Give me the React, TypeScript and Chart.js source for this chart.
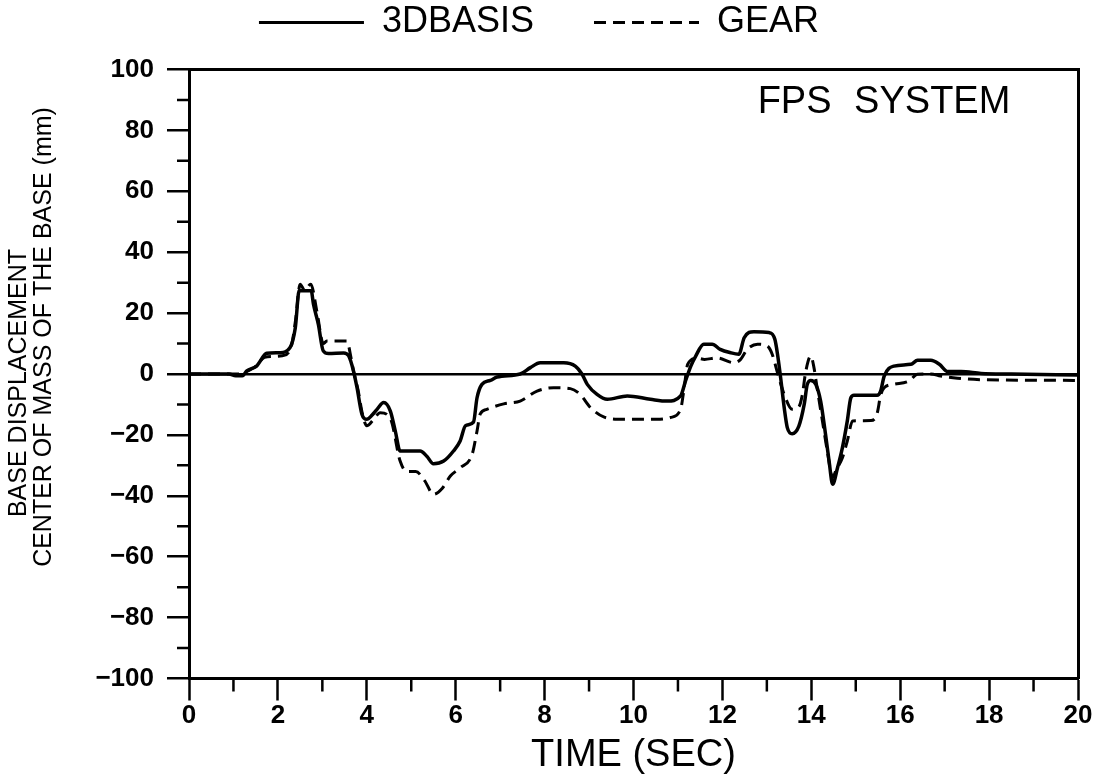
import React, { useEffect, useRef } from "react";
import { Chart, registerables } from "chart.js";

Chart.register(...registerables);

// ---- data (time in sec, displacement in mm) ----
const basisTime = [
  0, 0.9, 1.05, 1.2, 1.3, 1.52, 1.75, 2.05, 2.27, 2.39, 2.48, 2.55, 2.75, 2.8, 2.91, 3.02, 3.14, 3.48, 3.59, 3.7,
  3.78, 3.89, 4.0, 4.12, 4.23, 4.38, 4.53, 4.64, 4.75, 5.2, 5.35, 5.5, 5.73, 5.95, 6.1, 6.22, 6.4, 6.48, 6.59, 6.78,
  6.93, 7.45, 7.68, 7.9, 8.43, 8.69, 8.84, 8.96, 9.18, 9.41, 9.86, 10.38, 10.76, 11.06, 11.17, 11.29, 11.4, 11.58,
  11.77, 11.95, 12.18, 12.37, 12.49, 12.71, 13.05, 13.18, 13.24, 13.31, 13.39, 13.46, 13.57, 13.72, 13.84, 13.91,
  13.99, 14.1, 14.21, 14.32, 14.4, 14.48, 14.59, 14.7, 14.81, 14.89, 14.96, 15.48, 15.56, 15.64, 15.86, 16.24,
  16.39, 16.69, 16.88, 17.07, 17.37, 17.82, 18.5, 20,
];
const basisDisp = [
  0, 0, -0.6, -0.6, 1, 2.6, 6.8, 7, 8.6, 15, 27.5, 27.3, 27.3, 22.9, 16.3, 7.6, 6.7, 6.9, 6, 1,
  -4.5, -13.2, -14.9, -13.5, -11.6, -9.4, -12.2, -18.7, -25.3, -25.3, -27, -29.5, -28.6, -25.3, -22, -17, -15.8, -7.8, -3.4, -2.1,
  -1, 0, 2.1, 3.7, 3.7, 2.6, 0, -3.4, -6.7, -8.3, -7.2, -8.3, -8.9, -7.2, -2.3, 2.6, 5.9, 9.8,
  9.8, 8.1, 7, 6.5, 11.9, 13.9, 13.6, 11.4, 6.5, -1.2, -11, -17.6, -19.6, -17.1, -10, -3.4,
  -2.1, -3.4, -8.9, -19.8, -28.6, -36.2, -30.8, -24.2, -15.4, -7.8, -7, -7, -5.6, -0.7, 2.6, 3.2,
  4.5, 4.5, 3.2, 0.8, 0.8, 0.2, 0, -0.3,
];

const gearTime = [
  0, 1.2, 1.3, 1.5, 1.7, 1.9, 2.1, 2.3, 2.4, 2.5, 2.6, 2.74, 2.88, 3.02, 3.1, 3.55, 3.65, 3.7, 3.8, 3.9,
  4.0, 4.15, 4.3, 4.53, 4.75, 4.9, 5.1, 5.3, 5.5, 5.7, 5.88, 6.1, 6.37, 6.48, 6.55, 6.7, 7.08, 7.45, 7.83, 8.2,
  8.58, 8.8, 9.03, 9.33, 9.78, 10.53, 10.83, 11.06, 11.13, 11.22, 11.43, 11.6, 11.88, 12.26, 12.41, 12.56, 12.79,
  13.01, 13.12, 13.24, 13.39, 13.57, 13.72, 13.8, 13.87, 13.99, 14.06, 14.13, 14.25, 14.36, 14.48, 14.55, 14.7,
  14.81, 14.93, 15.34, 15.48, 15.56, 15.64, 15.86, 16.2, 16.39, 16.69, 16.91, 17.29, 17.9, 20,
];
const gearDisp = [
  0, 0, 0.8, 2.5, 5.5, 5.8, 6, 9, 18, 29.5, 27.5, 29.5, 20.3, 10, 10.8, 10.8, 5, 1, -5, -13,
  -17, -15, -12.7, -14.6, -28.6, -32, -32, -35, -39.5, -37.5, -33.5, -30.8, -26.4, -18.7, -13.2, -11.6, -9.8, -8.9, -5.6, -4.5,
  -4.8, -6.7, -11, -14.1, -14.9, -14.9, -14.3, -11.6, -5.6, 3.2, 5.2, 4.8, 5.3, 3.7, 4.8, 8.1, 9.8,
  9.2, 6.5, 0.4, -6.7, -11.6, -10.8, -6.7, 0.4, 5.9, 2.1, -4.5, -15.4, -25.3, -34, -31.8, -27.5,
  -22, -15.4, -15.3, -13, -7, -4.5, -3.4, -2.3, -0.1, 0, -0.7, -1.4, -1.9, -2.1,
];

const seriesLabels = ["3DBASIS", "GEAR"];
const xTitle = "TIME (SEC)";
const yTitleLines = ["BASE DISPLACEMENT", "CENTER OF MASS OF THE BASE (mm)"];
const plotLabel = "FPS SYSTEM";

const FONT = "'Liberation Sans', Arial, Helvetica, sans-serif";

export default function App() {
  const ref = useRef<HTMLCanvasElement>(null);

  useEffect(() => {
    const canvas = ref.current;
    if (!canvas) return;

    const extras = {
      id: "extras",
      afterDraw(chart: any) {
        const { ctx, chartArea: a, scales } = chart;
        const xs = scales.x;
        const ys = scales.y;
        ctx.save();
        ctx.strokeStyle = "#000";
        ctx.lineWidth = 2.5;
        ctx.beginPath();
        for (let v = 1; v < 20; v += 2) {
          const px = xs.getPixelForValue(v);
          ctx.moveTo(px, a.bottom);
          ctx.lineTo(px, a.bottom + 13);
        }
        for (let v = -90; v < 100; v += 20) {
          const py = ys.getPixelForValue(v);
          ctx.moveTo(a.left, py);
          ctx.lineTo(a.left - 12, py);
        }
        ctx.stroke();

        ctx.fillStyle = "#000";
        ctx.textAlign = "center";
        ctx.textBaseline = "middle";
        ctx.font = `38px ${FONT}`;
        try { (ctx as any).wordSpacing = "12px"; } catch (e) {}
        ctx.fillText(plotLabel, a.right - 194, a.top + 33);
        try { (ctx as any).wordSpacing = "0px"; } catch (e) {}

        ctx.font = `25px ${FONT}`;
        const centers = [
          [19, 383],
          [44, 337],
        ];
        yTitleLines.forEach((t, i) => {
          ctx.save();
          ctx.translate(centers[i][0], centers[i][1]);
          ctx.rotate(-Math.PI / 2);
          ctx.fillText(t, 0, 0);
          ctx.restore();
        });
        ctx.restore();
      },
    };

    const minus = (v: number) => String(v).replace("-", "\u2212");

    const chart = new Chart(canvas, {
      type: "line",
      data: {
        datasets: [
          {
            label: seriesLabels[0],
            data: basisTime.map((t, i) => ({ x: t, y: basisDisp[i] })),
            borderColor: "#000",
            backgroundColor: "#000",
            borderWidth: 3.5,
            pointRadius: 0,
            cubicInterpolationMode: "monotone",
            fill: false,
          },
          {
            label: seriesLabels[1],
            data: gearTime.map((t, i) => ({ x: t, y: gearDisp[i] })),
            borderColor: "#000",
            backgroundColor: "#000",
            borderWidth: 3,
            borderDash: [12, 7],
            pointRadius: 0,
            cubicInterpolationMode: "monotone",
            fill: false,
          },
        ],
      },
      options: {
        animation: false,
        responsive: true,
        maintainAspectRatio: false,
        layout: { padding: { top: -55.5, left: 0, right: 20, bottom: 0 } },
        plugins: {
          legend: {
            display: true,
            position: "top",
            align: "center",
            labels: {
              usePointStyle: true,
              pointStyle: "line",
              pointStyleWidth: 105,
              color: "#000",
              padding: 60,
              font: { family: FONT, size: 36 },
              generateLabels: (c: any) =>
                Chart.defaults.plugins.legend.labels.generateLabels(c).map((l: any, i: number) => ({
                  ...l,
                  lineDash: c.data.datasets[i].borderDash || [],
                  lineWidth: 3,
                  strokeStyle: "#000",
                })),
            },
          },
          tooltip: { enabled: false },
        },
        scales: {
          x: {
            type: "linear",
            position: "bottom",
            min: 0,
            max: 20,
            afterFit: (s: any) => { s.height = 105.5; },
            ticks: {
              stepSize: 1,
              autoSkip: false,
              maxRotation: 0,
              padding: 0,
              color: "#000",
              font: { family: FONT, size: 26, weight: "bold" },
              callback: (v: any) => (Number(v) % 2 === 0 ? minus(Number(v)) : ""),
            },
            grid: {
              drawOnChartArea: false,
              drawTicks: true,
              tickLength: 22,
              tickWidth: 2.5,
              tickColor: (c: any) => (c.tick && c.tick.value % 2 === 0 ? "#000" : "rgba(0,0,0,0)"),
            },
            border: { display: true, color: "#000", width: 3 },
            title: {
              display: true,
              text: xTitle,
              color: "#000",
              font: { family: FONT, size: 38 },
              padding: { top: 0, bottom: 6 },
            },
          },
          y: {
            type: "linear",
            position: "left",
            min: -100,
            max: 100,
            afterFit: (s: any) => { s.width = 189; },
            ticks: {
              stepSize: 10,
              autoSkip: false,
              padding: 13,
              color: "#000",
              font: { family: FONT, size: 26, weight: "bold" },
              callback: (v: any) => (Number(v) % 20 === 0 ? minus(Number(v)) : ""),
            },
            grid: {
              drawOnChartArea: true,
              drawTicks: true,
              tickLength: 22,
              tickWidth: 2.5,
              lineWidth: 2.5,
              color: (c: any) => (c.tick && c.tick.value === 0 ? "#000" : "rgba(0,0,0,0)"),
              tickColor: (c: any) => (c.tick && c.tick.value % 20 === 0 ? "#000" : "rgba(0,0,0,0)"),
            },
            border: { display: true, color: "#000", width: 3 },
          },
          x2: {
            type: "linear",
            position: "top",
            display: true,
            min: 0,
            max: 20,
            afterFit: (s: any) => { s.height = 19; },
            ticks: { display: false },
            grid: { display: false, drawTicks: false },
            border: { display: true, color: "#000", width: 3 },
          },
          y2: {
            type: "linear",
            position: "right",
            display: true,
            min: -100,
            max: 100,
            afterFit: (s: any) => { s.width = 0; },
            ticks: { display: false },
            grid: { display: false, drawTicks: false },
            border: { display: true, color: "#000", width: 3 },
          },
        },
      },
      plugins: [extras],
    } as any);

    return () => chart.destroy();
  }, []);

  return (
    <div style={{ position: "fixed", left: 0, top: 0, width: 1098, height: 784, background: "#fff" }}>
      <canvas ref={ref} />
    </div>
  );
}
